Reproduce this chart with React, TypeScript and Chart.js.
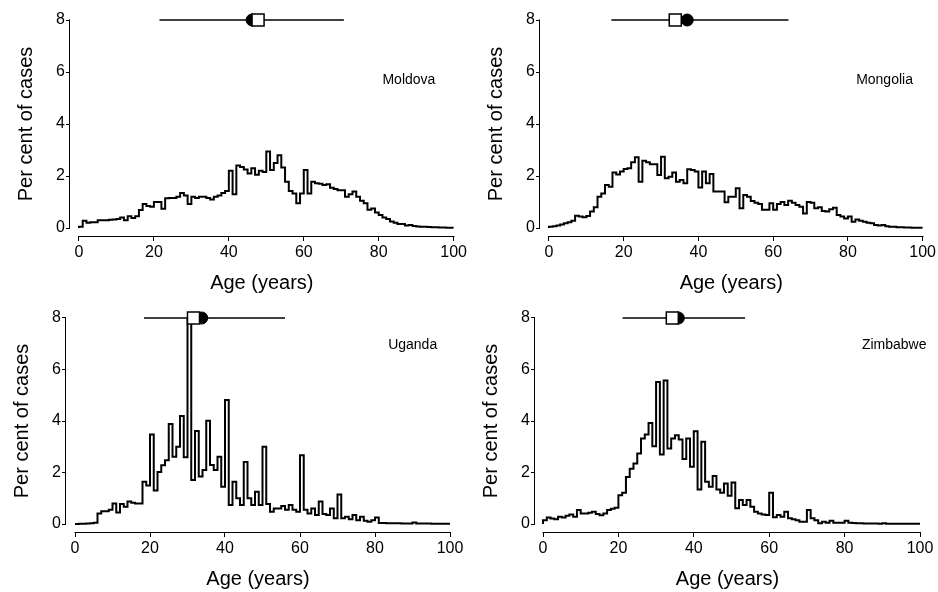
import React, { useEffect, useRef } from 'react';
import { Chart, registerables } from 'chart.js';

Chart.register(...registerables);

// Age bins (left edge of each one-year bin)
const AGES: number[] = [
  0, 1, 2, 3, 4, 5, 6, 7, 8, 9, 10, 11, 12, 13, 14, 15, 16, 17, 18, 19,
  20, 21, 22, 23, 24, 25, 26, 27, 28, 29, 30, 31, 32, 33, 34, 35, 36, 37, 38, 39,
  40, 41, 42, 43, 44, 45, 46, 47, 48, 49, 50, 51, 52, 53, 54, 55, 56, 57, 58, 59,
  60, 61, 62, 63, 64, 65, 66, 67, 68, 69, 70, 71, 72, 73, 74, 75, 76, 77, 78, 79,
  80, 81, 82, 83, 84, 85, 86, 87, 88, 89, 90, 91, 92, 93, 94, 95, 96, 97, 98, 99,
];

const X_TICKS = [0, 20, 40, 60, 80, 100];
const Y_TICKS = [0, 2, 4, 6, 8];

const MOLDOVA: number[] = [
  0.05, 0.28, 0.2, 0.22, 0.22, 0.3, 0.3, 0.3, 0.32, 0.33,
  0.35, 0.4, 0.3, 0.45, 0.38, 0.45, 0.69, 0.92, 0.85, 0.82,
  1.0, 1.0, 0.74, 1.14, 1.15, 1.15, 1.2, 1.35, 1.25, 0.92,
  1.2, 1.15, 1.2, 1.2, 1.15, 1.1, 1.2, 1.25, 1.35, 1.42,
  2.2, 1.3, 2.4, 2.35, 2.25, 2.1, 2.3, 2.05, 2.2, 2.15,
  2.94, 2.23, 2.5, 2.8, 2.33, 1.78, 1.42, 1.33, 0.95, 1.33,
  2.23, 1.33, 1.78, 1.72, 1.7, 1.65, 1.68, 1.55, 1.5, 1.45,
  1.45, 1.2, 1.3, 1.4, 1.2, 1.05, 0.95, 0.7, 0.75, 0.6,
  0.5, 0.4, 0.35, 0.25, 0.2, 0.15, 0.15, 0.1, 0.12, 0.08,
  0.06, 0.05, 0.05, 0.04, 0.03, 0.03, 0.02, 0.02, 0.01, 0.01,
];

const MONGOLIA: number[] = [
  0.05, 0.07, 0.1, 0.13, 0.18, 0.22, 0.28, 0.47, 0.44, 0.41,
  0.46, 0.63, 0.8, 1.2, 1.33, 1.65, 1.59, 2.13, 2.06, 2.17,
  2.27, 2.3, 2.53, 2.72, 1.78, 2.59, 2.53, 2.45, 2.45, 2.04,
  2.74, 1.91, 1.97, 2.13, 1.78, 1.85, 1.72, 2.26, 2.23, 2.17,
  1.56, 2.17, 1.72, 2.08, 1.4, 1.4, 1.4, 0.99, 1.2, 1.2,
  1.53, 0.76, 1.27, 1.2, 1.04, 0.97, 0.92, 0.7, 0.7, 0.95,
  0.7, 0.92, 1.0, 0.88, 1.05, 0.97, 0.88, 0.82, 0.56, 1.0,
  0.97, 0.76, 0.8, 0.65, 0.63, 0.72, 0.78, 0.5, 0.44, 0.37,
  0.44, 0.24, 0.33, 0.28, 0.24, 0.2, 0.18, 0.12, 0.1, 0.12,
  0.07, 0.05, 0.05, 0.03, 0.03, 0.02, 0.02, 0.01, 0.01, 0.01,
];

const UGANDA: number[] = [
  0, 0.01, 0.01, 0.02, 0.03, 0.05, 0.41, 0.5, 0.5, 0.55,
  0.8, 0.45, 0.78, 0.67, 0.87, 0.83, 0.8, 0.8, 1.64, 1.5,
  3.48, 1.3, 2.02, 2.28, 2.48, 3.88, 2.61, 3.0, 4.19, 2.59,
  7.95, 1.71, 3.61, 1.84, 2.1, 4.01, 2.29, 2.1, 2.61, 1.45,
  4.82, 0.74, 1.64, 1.0, 0.74, 2.41, 1.0, 0.74, 1.25, 0.74,
  3.0, 0.78, 0.48, 0.6, 0.6, 0.7, 0.55, 0.74, 0.55, 0.48,
  2.67, 0.55, 0.41, 0.6, 0.35, 0.87, 0.39, 0.35, 0.6, 0.22,
  1.15, 0.22, 0.28, 0.18, 0.35, 0.15, 0.28, 0.13, 0.09, 0.15,
  0.25, 0.04, 0.04, 0.03, 0.03, 0.03, 0.03, 0.02, 0.02, 0.02,
  0.06, 0.02, 0.02, 0.02, 0.02, 0.01, 0.01, 0.01, 0.01, 0.01,
];

const ZIMBABWE: number[] = [
  0.15, 0.25, 0.21, 0.18, 0.28, 0.25, 0.32, 0.37, 0.28, 0.54,
  0.41, 0.41, 0.44, 0.48, 0.39, 0.34, 0.41, 0.54, 0.59, 0.63,
  1.12, 1.21, 1.83, 2.15, 2.35, 2.74, 3.32, 3.48, 3.92, 3.02,
  5.51, 2.7, 5.57, 2.93, 3.32, 3.45, 3.28, 2.52, 3.32, 2.22,
  3.6, 1.34, 3.19, 1.64, 1.45, 1.86, 1.34, 1.21, 1.57, 1.1,
  1.61, 0.61, 0.93, 0.74, 0.93, 0.67, 0.48, 0.41, 0.37, 0.35,
  1.21, 0.26, 0.35, 0.28, 0.48, 0.22, 0.18, 0.15, 0.09, 0.09,
  0.54, 0.22, 0.15, 0.03, 0.09, 0.05, 0.13, 0.05, 0.05, 0.05,
  0.13, 0.05, 0.04, 0.03, 0.03, 0.02, 0.02, 0.02, 0.02, 0.01,
  0.03, 0.01, 0.01, 0.01, 0.01, 0.01, 0.01, 0.01, 0.01, 0.01,
];

// Summary marks at y = 8: [range low, circle (filled), square (open), range high]
const MOLDOVA_SUMMARY = [21.5, 46.2, 47.8, 70.7];
const MONGOLIA_SUMMARY = [16.7, 37.0, 33.8, 64.1];
const UGANDA_SUMMARY = [18.4, 33.8, 31.6, 56.0];
const ZIMBABWE_SUMMARY = [21.1, 35.9, 34.3, 53.6];
const SUMMARY_Y = 8;

const FONT = '"Liberation Sans", Arial, Helvetica, sans-serif';

type Panel = {
  name: string;
  values: number[];
  summary: number[];
  left: number;
  top: number;
  axisX: number; // y-axis line (local px)
  x0: number; // pixel of age 0
  x100: number; // pixel of age 100
  y8: number; // pixel of value 8
  y0: number; // pixel of value 0
  label: [number, number];
};

const PANELS: Panel[] = [
  { name: 'Moldova', values: MOLDOVA, summary: MOLDOVA_SUMMARY, left: 0, top: 0, axisX: 70, x0: 79, x100: 455, y8: 20, y0: 228, label: [81, 5.7] },
  { name: 'Mongolia', values: MONGOLIA, summary: MONGOLIA_SUMMARY, left: 469, top: 0, axisX: 71, x0: 80, x100: 456, y8: 20, y0: 228, label: [82.2, 5.7] },
  { name: 'Uganda', values: UGANDA, summary: UGANDA_SUMMARY, left: 0, top: 296, axisX: 66, x0: 75, x100: 450, y8: 22, y0: 228, label: [83.5, 6.95] },
  { name: 'Zimbabwe', values: ZIMBABWE, summary: ZIMBABWE_SUMMARY, left: 469, top: 296, axisX: 66, x0: 74, x100: 451, y8: 22, y0: 228, label: [84.6, 6.95] },
];

const W = 469;
const H = 296;
const AREA_BOTTOM = 236;

const rAxesPlugin = {
  id: 'rAxes',
  afterDraw(chart: any, _args: any, opts: any) {
    const { ctx } = chart;
    const xs = chart.scales.x;
    const ys = chart.scales.y;
    ctx.save();
    ctx.strokeStyle = '#000';
    ctx.lineWidth = 1;
    const ax = Math.round(chart.chartArea.left) - 0.5;
    ctx.beginPath();
    ctx.moveTo(ax, Math.round(ys.getPixelForValue(0)) + 0.5);
    ctx.lineTo(ax, Math.round(ys.getPixelForValue(8)) - 0.5);
    ctx.stroke();
    const ay = Math.round(chart.chartArea.bottom) + 0.5;
    ctx.beginPath();
    ctx.moveTo(Math.round(xs.getPixelForValue(0)) - 0.5, ay);
    ctx.lineTo(Math.round(xs.getPixelForValue(100)) + 0.5, ay);
    ctx.stroke();
    if (opts && opts.text) {
      ctx.fillStyle = '#000';
      ctx.font = `14px ${FONT}`;
      ctx.textAlign = 'left';
      ctx.textBaseline = 'middle';
      ctx.fillText(opts.text, xs.getPixelForValue(opts.x), ys.getPixelForValue(opts.y));
    }
    ctx.restore();
  },
};

function PanelChart({ p }: { p: Panel }) {
  const ref = useRef<HTMLCanvasElement | null>(null);
  useEffect(() => {
    if (!ref.current) return;
    const pxPerYear = (p.x100 - p.x0) / 100;
    const pxPerUnit = (p.y0 - p.y8) / 8;
    const xMin = -(p.x0 - p.axisX) / pxPerYear;
    const areaTop = p.y8 - 8;
    const yMin = -(AREA_BOTTOM - p.y0) / pxPerUnit;
    const yMax = 8 + (p.y8 - areaTop) / pxPerUnit;

    const steps = [{ x: 0, y: 0 }]
      .concat(AGES.map((a, i) => ({ x: a, y: p.values[i] })))
      .concat([{ x: 100, y: 0 }]);

    const chart = new Chart(ref.current, {
      type: 'scatter',
      data: {
        datasets: [
          {
            data: [{ x: p.summary[2], y: SUMMARY_Y }],
            pointStyle: 'rect',
            pointRadius: 8.5,
            backgroundColor: '#fff',
            borderColor: '#000',
            borderWidth: 1.5,
            clip: false,
            order: 0,
          } as any,
          {
            data: [{ x: p.summary[1], y: SUMMARY_Y }],
            pointStyle: 'circle',
            pointRadius: 6,
            backgroundColor: '#000',
            borderColor: '#000',
            borderWidth: 1,
            clip: false,
            order: 1,
          } as any,
          {
            data: [{ x: p.summary[0], y: SUMMARY_Y }, { x: p.summary[3], y: SUMMARY_Y }],
            showLine: true,
            pointRadius: 0,
            borderColor: '#000',
            borderWidth: 1.5,
            clip: false,
            order: 2,
          } as any,
          {
            data: steps,
            showLine: true,
            stepped: 'before',
            pointRadius: 0,
            borderColor: '#000',
            borderWidth: 2,
            borderJoinStyle: 'miter',
            order: 3,
          } as any,
        ],
      },
      options: {
        responsive: false,
        animation: false,
        events: [],
        devicePixelRatio: 1,
        layout: { padding: { top: areaTop, left: 0, bottom: 0, right: W - p.x100 } },
        plugins: {
          legend: { display: false },
          tooltip: { enabled: false },
          rAxes: { text: p.name, x: p.label[0], y: p.label[1] },
        } as any,
        scales: {
          x: {
            type: 'linear',
            min: xMin,
            max: 100,
            border: { display: false },
            grid: { display: true, drawOnChartArea: false, drawTicks: true, tickLength: 5, color: '#000', lineWidth: 1 },
            ticks: { color: '#000', font: { family: FONT, size: 16 }, padding: 2, maxRotation: 0 },
            title: { display: true, text: 'Age (years)', color: '#000', font: { family: FONT, size: 20 }, padding: { top: 0, bottom: 1 } },
            afterBuildTicks: (s: any) => { s.ticks = X_TICKS.map((v) => ({ value: v })); },
            afterFit: (s: any) => { s.height = H - AREA_BOTTOM; },
          } as any,
          y: {
            type: 'linear',
            min: yMin,
            max: yMax,
            border: { display: false },
            grid: { display: true, drawOnChartArea: false, drawTicks: true, tickLength: 4, color: '#000', lineWidth: 1 },
            ticks: { color: '#000', font: { family: FONT, size: 16 }, padding: 1 },
            title: { display: true, text: 'Per cent of cases', color: '#000', font: { family: FONT, size: 20 }, padding: { top: p.axisX - 56, bottom: 0 } },
            afterBuildTicks: (s: any) => { s.ticks = Y_TICKS.map((v) => ({ value: v })); },
            afterFit: (s: any) => { s.width = p.axisX; },
          } as any,
        },
      },
      plugins: [rAxesPlugin],
    });
    return () => chart.destroy();
  }, [p]);

  return (
    <div style={{ position: 'absolute', left: p.left, top: p.top, width: W, height: H }}>
      <canvas ref={ref} width={W} height={H} style={{ width: W, height: H, display: 'block' }} />
    </div>
  );
}

export default function App() {
  return (
    <div style={{ position: 'absolute', left: 0, top: 0, width: 938, height: 592, background: '#fff', overflow: 'hidden' }}>
      {PANELS.map((p) => (
        <PanelChart key={p.name} p={p} />
      ))}
    </div>
  );
}
